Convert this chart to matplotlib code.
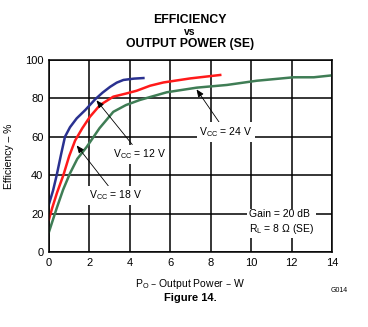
import matplotlib
matplotlib.use("Agg")
import matplotlib.pyplot as plt

plt.rcParams['font.family'] = ['Liberation Sans', 'DejaVu Sans']

# VCC = 12 V
p12 = [0.0, 0.2, 0.38, 0.6, 0.79, 1.04, 1.37, 1.8, 2.28, 2.65, 3.02, 3.35, 3.68, 4.2, 4.67]
e12 = [25, 32, 40, 51, 60, 65, 69.6, 74, 79.5, 83, 86, 88.2, 89.6, 90.3, 90.6]
# VCC = 18 V
p18 = [0.0, 0.16, 0.4, 0.71, 1.0, 1.29, 1.65, 2.03, 2.52, 3.18, 3.8, 4.34, 5.0, 5.66, 6.98, 8.47]
e18 = [17, 23, 31, 40, 50, 58, 64.5, 70.5, 76.5, 80.9, 82.5, 84, 86.6, 88.3, 90.4, 92.2]
# VCC = 24 V
p24 = [0.0, 0.38, 0.7, 1.04, 1.4, 1.87, 2.5, 3.18, 3.8, 4.5, 5.83, 7.31, 8.8, 10.28, 12.1, 13.1, 14.0]
e24 = [10.5, 22.8, 32.5, 41, 48.5, 54.8, 64.5, 73, 76.5, 79.2, 83.2, 85.6, 87, 89.2, 91, 91, 92]

fig = plt.figure(figsize=(3.68, 3.27), dpi=100)
ax = fig.add_axes([49/368, 1-252/327, 283/368, 192/327])

ax.plot(p12, e12, color='#2a3190', lw=1.8)
ax.plot(p18, e18, color='#ff1a1a', lw=1.8)
ax.plot(p24, e24, color='#3f7d55', lw=1.8)

ax.set_xlim(0, 14)
ax.set_ylim(0, 100)
ax.set_xticks(range(0, 15, 2))
ax.set_yticks(range(0, 101, 20))
ax.grid(True, color='black', lw=1.1)
ax.tick_params(labelsize=8, length=0, pad=4)
for s in ax.spines.values():
    s.set_linewidth(1.1)

ax.set_ylabel('Efficiency – %', fontsize=7.5, labelpad=8)
fig.text(190/368, 1-284/327, 'P$_\\mathregular{O}$ – Output Power – W', fontsize=7.5,
         ha='center', va='center')

bb = dict(boxstyle='square,pad=0.25', fc='white', ec='none')
arr = dict(arrowstyle='-|>,head_length=0.6,head_width=0.25', color='black', lw=0.6, shrinkA=0, shrinkB=0)
ax.annotate('V$_\\mathregular{CC}$ = 12 V', xy=(2.35, 79), xytext=(4.5, 51),
            fontsize=7.5, ha='center', va='center', bbox=bb, arrowprops=arr)
ax.annotate('V$_\\mathregular{CC}$ = 18 V', xy=(1.37, 55.5), xytext=(3.3, 29.5),
            fontsize=7.5, ha='center', va='center', bbox=bb, arrowprops=arr)
ax.annotate('V$_\\mathregular{CC}$ = 24 V', xy=(7.3, 84.7), xytext=(8.75, 62.5),
            fontsize=7.5, ha='center', va='center', bbox=bb, arrowprops=arr)
ax.text(9.9, 15.5, 'Gain = 20 dB\nR$_\\mathregular{L}$ = 8 Ω (SE)', fontsize=7.5,
        ha='left', va='center', linespacing=1.3,
        bbox=dict(boxstyle='square,pad=0.2', fc='white', ec='none'))

fig.text(190/368, 1-20/327, 'EFFICIENCY', fontsize=8.8, fontweight='bold', ha='center', va='center')
fig.text(190/368, 1-32/327, 'vs', fontsize=7.5, fontweight='bold', ha='center', va='center')
fig.text(190/368, 1-44/327, 'OUTPUT POWER (SE)', fontsize=8.8, fontweight='bold', ha='center', va='center')
fig.text(190/368, 1-298/327, 'Figure 14.', fontsize=8, fontweight='bold', ha='center', va='center')
fig.text(339/368, 1-290/327, 'G014', fontsize=5, ha='center', va='center')

fig.savefig('out.png', dpi=100)
